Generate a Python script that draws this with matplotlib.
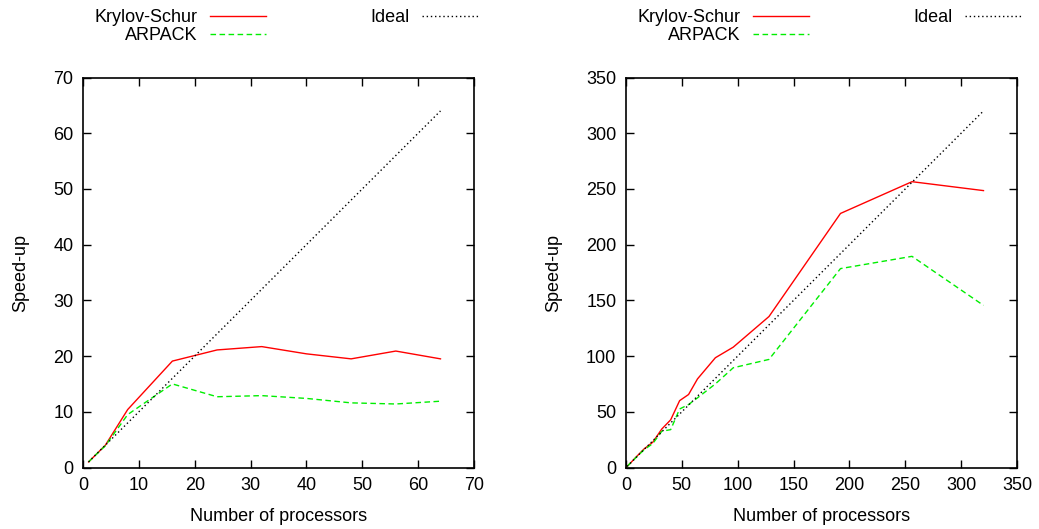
import matplotlib
matplotlib.use("Agg")
import matplotlib.pyplot as plt

plt.rcParams['font.family'] = ['Liberation Sans', 'DejaVu Sans']

# Left panel: up to 64 processors
procs_a = [1, 2, 4, 8, 16, 24, 32, 40, 48, 56, 64]
ks_a = [1, 2, 4, 10.4, 19.1, 21.1, 21.7, 20.4, 19.5, 20.9, 19.5]
arpack_a = [1, 2, 3.9, 9.5, 15.0, 12.7, 12.9, 12.4, 11.6, 11.4, 11.9]
ideal_a = [1, 64]

# Right panel: up to 320 processors
procs_b = [1, 2, 4, 8, 16, 24, 32, 40, 48, 56, 64, 80, 96, 128, 192, 256, 320]
ks_b = [1, 2, 4, 8.3, 16.5, 22.7, 34.5, 42.8, 60, 65.5, 79.5, 98.5, 108, 135.5,
        228, 256.5, 248.5]
arpack_b = [1, 2, 4, 8, 15.8, 21.5, 32.5, 34, 52.5, 56.5, 62.5, 75, 89.5, 97,
            178.5, 189.5, 145.5]
ideal_b = [1, 320]

xticks_a = list(range(0, 71, 10))
yticks_a = list(range(0, 71, 10))
xticks_b = list(range(0, 351, 50))
yticks_b = list(range(0, 351, 50))

FS = 13

fig = plt.figure(figsize=(10.39, 5.29), dpi=100)
W, H = 1039, 529
ax1 = fig.add_axes([83 / W, (H - 467.5) / H, 391 / W, 390 / H])
ax2 = fig.add_axes([626 / W, (H - 467.5) / H, 391 / W, 390 / H])


def panel(ax, x, ks, ar, ideal, xt, yt, legend_right):
    ax.plot(x, ks, color='#ff0000', lw=1.0, label='Krylov-Schur')
    ax.plot(x, ar, color='#00ee00', lw=1.0, dashes=(4, 2.5), label='ARPACK')
    ax.plot(ideal, ideal, color='black', lw=1.0, dashes=(1, 2), label='Ideal')
    ax.set_xlim(xt[0], xt[-1])
    ax.set_ylim(yt[0], yt[-1])
    ax.set_xticks(xt)
    ax.set_yticks(yt)
    ax.tick_params(direction='in', top=True, right=True, length=6, width=1,
                   labelsize=FS, pad=7)
    for s in ax.spines.values():
        s.set_linewidth(1.2)
    ax.set_xlabel('Number of processors', fontsize=FS, labelpad=10)
    ax.set_ylabel('Speed-up', fontsize=FS, labelpad=17)
    leg = ax.legend(ncol=2, markerfirst=False, frameon=False, fontsize=FS,
                    loc='upper right',
                    bbox_to_anchor=(legend_right / W, 1.0),
                    bbox_transform=fig.transFigure, handlelength=3.1,
                    handletextpad=0.7, columnspacing=5.75, labelspacing=0.07,
                    borderaxespad=0.1)
    return leg


panel(ax1, procs_a, ks_a, arpack_a, ideal_a, xticks_a, yticks_a, 487)
panel(ax2, procs_b, ks_b, arpack_b, ideal_b, xticks_b, yticks_b, 1030)

fig.savefig('out.png', dpi=100)
